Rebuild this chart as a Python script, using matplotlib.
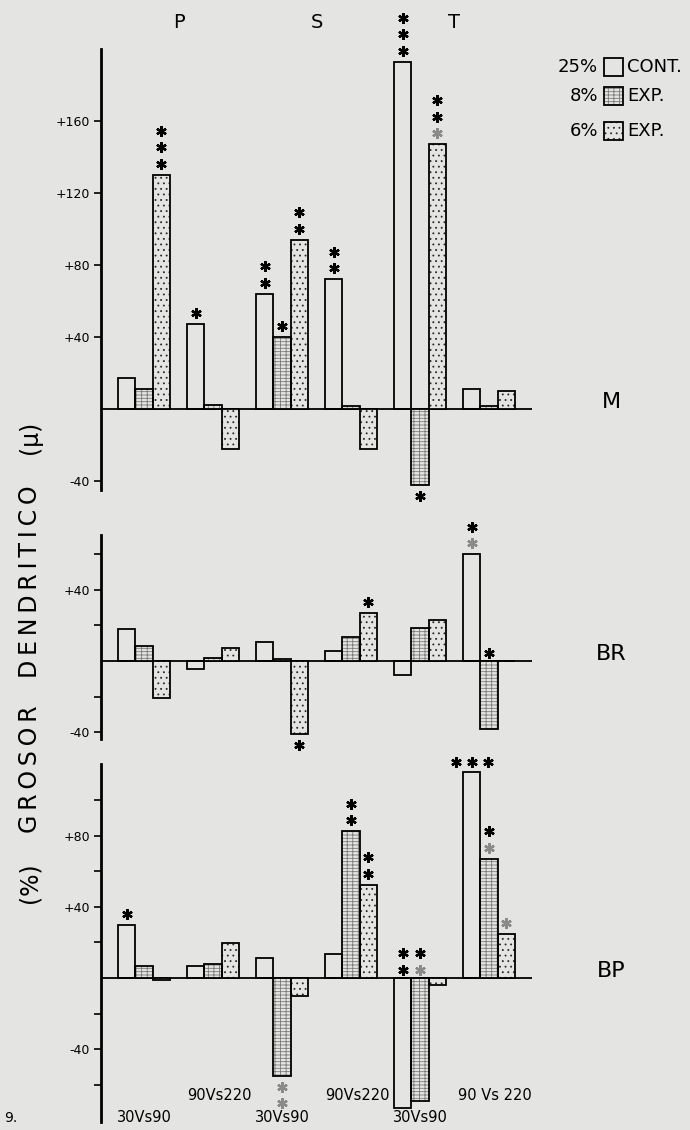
import matplotlib.pyplot as plt
from matplotlib.patches import Rectangle
from matplotlib.transforms import offset_copy, blended_transform_factory

# comparisons (one group of three bars each)
groups = ["30Vs90", "90Vs220", "30Vs90", "90Vs220", "30Vs90", "90 Vs 220"]
regions = ["P", "S", "T"]
series_pct = ["25%", "8%", "6%"]
series_name = ["CONT.", "EXP.", "EXP."]

# panel M
m_cont = [17, 47, 64, 72, 193, 11]
m_exp8 = [11, 2, 40, 1.5, -42, 1.5]
m_exp6 = [130, -22, 94, -22, 147, 10]
# panel BR
br_cont = [18, -4.5, 10.5, 5.5, -8, 60]
br_exp8 = [8.5, 1.5, 1, 13.5, 18.5, -38]
br_exp6 = [-21, 7.5, -41, 27, 23, 0]
# panel BP
bp_cont = [30, 6.5, 11, 13.5, -73, 116]
bp_exp8 = [7, 8, -55, 82.5, -69, 67]
bp_exp6 = [-1.3, 19.5, -10, 52.5, -4, 25]

# significance stars: (group, series, colours from bar outwards, mode)
m_stars = [(0, 2, "kkk", "out"), (1, 0, "k", "out"), (2, 0, "kk", "out"),
           (2, 1, "k", "out"), (2, 2, "kk", "out"), (3, 0, "kk", "out"),
           (4, 0, "kkk", "out"), (4, 1, "k", "out"), (4, 2, "gkk", "out")]
br_stars = [(2, 2, "k", "out"), (3, 2, "k", "out"), (5, 0, "gk", "out"),
            (5, 1, "k", "up")]
bp_stars = [(0, 0, "k", "out"), (2, 1, "gg", "out"), (3, 1, "kk", "out"),
            (3, 2, "kk", "out"), (4, 0, "kk", "up"), (4, 1, "gk", "up"),
            (5, 0, "kkk", "row"), (5, 1, "gk", "out"), (5, 2, "g", "out")]

BG = "#e4e4e2"
GRAY = "#8a8a8a"
W, H = 690, 1130
hatches = [None, "-----|||", "..."]
hatch_cols = [BG, "#7a7a7a", "#2a2a2a"]

plt.rcParams['hatch.linewidth'] = 0.6
plt.rcParams['font.family'] = ['DejaVu Sans']

fig = plt.figure(figsize=(W / 100, H / 100), dpi=100)
fig.patch.set_facecolor(BG)

LEFT, RIGHT = 101, 532


def make_axes(zero_px, scale, ylim):
    top = zero_px - ylim[1] * scale
    bot = zero_px - ylim[0] * scale
    ax = fig.add_axes([LEFT / W, 1 - bot / H, (RIGHT - LEFT) / W, (bot - top) / H])
    ax.set_facecolor("none")
    ax.set_xlim(-1.5, 23.5)
    ax.set_ylim(*ylim)
    for s in ["top", "right", "bottom"]:
        ax.spines[s].set_visible(False)
    ax.spines["left"].set_linewidth(2.0)
    ax.set_xticks([])
    ax.tick_params(axis="y", length=5, width=1.2, labelsize=9, pad=3)
    ax.axhline(0, color="k", lw=1.3, zorder=1)
    return ax


def draw_bars(ax, series):
    for j, vals in enumerate(series):
        xs = [4 * g + j for g in range(len(vals))]
        if hatches[j]:
            ax.bar(xs, vals, width=1.0, color=BG, edgecolor=hatch_cols[j],
                   hatch=hatches[j], lw=0, zorder=2)
        ax.bar(xs, vals, width=1.0, fill=False, edgecolor="k", lw=1.3, zorder=3)


def draw_stars(ax, series, stars):
    for g, j, cols, mode in stars:
        x = 4 * g + j
        v = series[j][g]
        for i, c in enumerate(cols):
            dx = 0
            if mode == "out":
                base = v
                dy = (11 + 16.5 * i) * (1 if v >= 0 else -1)
            elif mode == "up":
                base = 0
                dy = 8 + 17 * i
            else:
                base = v
                dy = 10
                dx = (i - 1) * 16
            tr = offset_copy(ax.transData, fig=fig, x=dx, y=dy, units="dots")
            ax.plot([x], [base], marker=(6, 2, 0), ms=7.5, mew=1.7,
                    color=("k" if c == "k" else GRAY), transform=tr,
                    clip_on=False, zorder=5)


panels = [
    ("M", [m_cont, m_exp8, m_exp6], m_stars, 409, 1.8, (-45, 200),
     [160, 120, 80, 40, -40], ["+160", "+120", "+80", "+40", "-40"]),
    ("BR", [br_cont, br_exp8, br_exp6], br_stars, 661, 1.78, (-44, 71),
     [60, 40, 20, -20, -40], ["", "+40", "", "", "-40"]),
    ("BP", [bp_cont, bp_exp8, bp_exp6], bp_stars, 978, 1.78, (-81, 120),
     [100, 80, 60, 40, 20, -20, -40, -60], ["", "+80", "", "+40", "", "", "-40", ""]),
]

axes = []
for name, series, stars, zero_px, scale, ylim, ticks, labels in panels:
    ax = make_axes(zero_px, scale, ylim)
    ax.set_yticks(ticks)
    ax.set_yticklabels(labels)
    draw_bars(ax, series)
    draw_stars(ax, series, stars)
    fig.text(611 / W, 1 - (zero_px - 7) / H, name, fontsize=16,
             ha="center", va="center")
    axes.append(ax)

# region letters on top, centred over each pair of groups
ax0 = axes[0]
tr_top = blended_transform_factory(ax0.transData, fig.transFigure)
for k, r in enumerate(regions):
    ax0.text(8 * k + 3, 1 - 23 / H, r, transform=tr_top, fontsize=14,
             ha="center", va="center")

# comparison labels under the bottom panel
axb = axes[2]
tr_bot = blended_transform_factory(axb.transData, fig.transFigure)
for g, lab in enumerate(groups):
    ypx = 1118 if g % 2 == 0 else 1096
    axb.text(4 * g + 1 + (0.35 if g % 2 else 0), 1 - ypx / H, lab,
             transform=tr_bot, fontsize=10.5, ha="center", va="center")

fig.text(11 / W, 1 - 1118 / H, "9.", fontsize=10, ha="center", va="center")

# legend drawn by hand
rows_y = [67, 96, 131]
for k in range(3):
    yc = rows_y[k]
    rect = (604 / W, 1 - (yc + 9) / H)
    if hatches[k]:
        fig.add_artist(Rectangle(rect, 19 / W, 18 / H, transform=fig.transFigure,
                                 facecolor=BG, edgecolor=hatch_cols[k],
                                 hatch=hatches[k], lw=0))
    fig.add_artist(Rectangle(rect, 19 / W, 18 / H, transform=fig.transFigure,
                             fill=False, edgecolor="k", lw=1.3))
    fig.text(598 / W, 1 - yc / H, series_pct[k], fontsize=13, ha="right", va="center")
    fig.text(627 / W, 1 - yc / H, series_name[k], fontsize=13, ha="left", va="center")

# vertical axis title, in separate words, letters spread out a little
ylab_words = ["(μ)", "DENDRITICO", "GROSOR", "(%)"]
ylab_y = [437, 582, 769, 883]
for wd, ypx in zip(ylab_words, ylab_y):
    spaced = "\u2009".join(wd) if len(wd) > 3 else wd
    fig.text(30 / W, 1 - ypx / H, spaced, rotation=90, fontsize=17,
             ha="center", va="center")

fig.savefig("out.png", dpi=100, facecolor=BG)
